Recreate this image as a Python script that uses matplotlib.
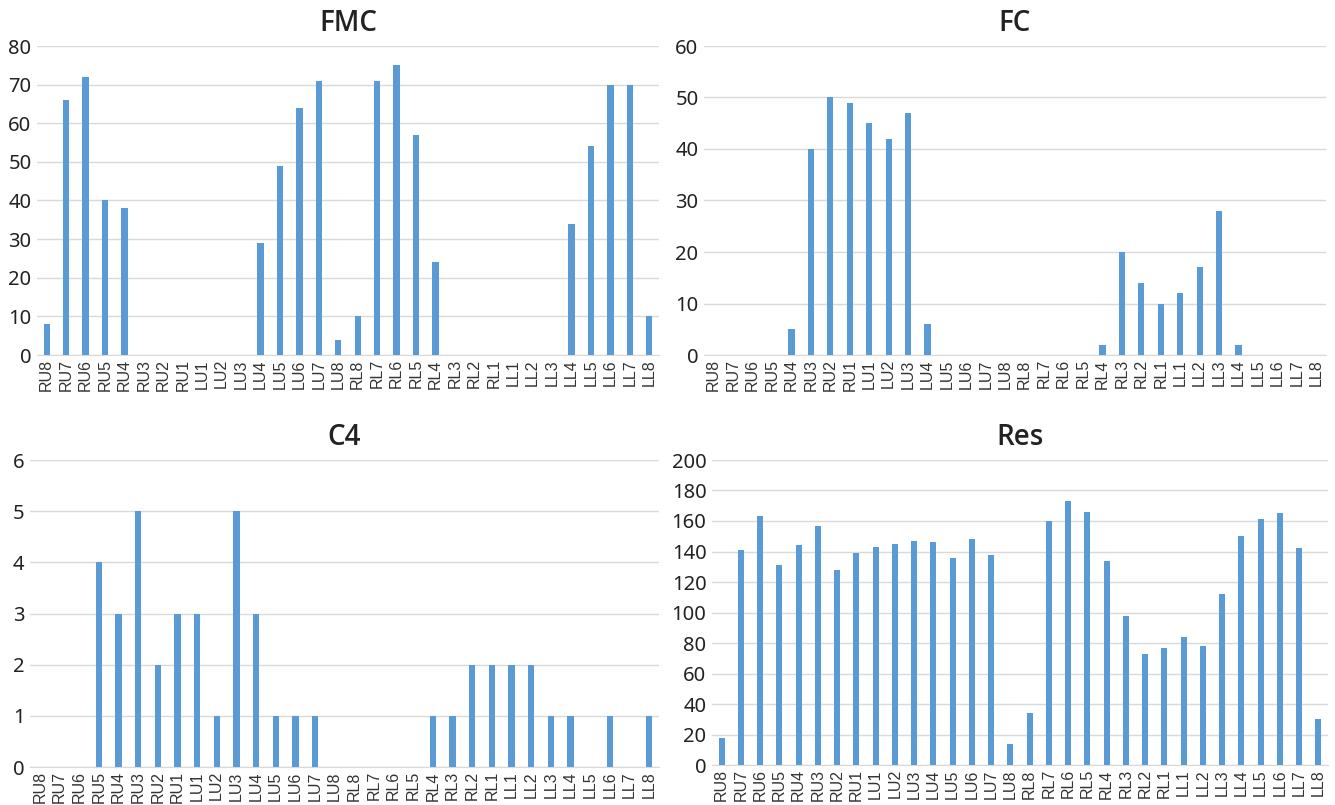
import matplotlib
matplotlib.use('Agg')
import matplotlib.pyplot as plt
import numpy as np

plt.rcParams['font.family'] = ['Noto Sans', 'DejaVu Sans']

teeth = ['RU8', 'RU7', 'RU6', 'RU5', 'RU4', 'RU3', 'RU2', 'RU1',
         'LU1', 'LU2', 'LU3', 'LU4', 'LU5', 'LU6', 'LU7', 'LU8',
         'RL8', 'RL7', 'RL6', 'RL5', 'RL4', 'RL3', 'RL2', 'RL1',
         'LL1', 'LL2', 'LL3', 'LL4', 'LL5', 'LL6', 'LL7', 'LL8']

fmc = [8, 66, 72, 40, 38, 0, 0, 0, 0, 0, 0, 29, 49, 64, 71, 4,
       10, 71, 75, 57, 24, 0, 0, 0, 0, 0, 0, 34, 54, 70, 70, 10]
fc = [0, 0, 0, 0, 5, 40, 50, 49, 45, 42, 47, 6, 0, 0, 0, 0,
      0, 0, 0, 0, 2, 20, 14, 10, 12, 17, 28, 2, 0, 0, 0, 0]
c4 = [0, 0, 0, 4, 3, 5, 2, 3, 3, 1, 5, 3, 1, 1, 1, 0,
      0, 0, 0, 0, 1, 1, 2, 2, 2, 2, 1, 1, 0, 1, 0, 1]
res = [18, 141, 163, 131, 144, 157, 128, 139, 143, 145, 147, 146, 136, 148, 138, 14,
       34, 160, 173, 166, 134, 98, 73, 77, 84, 78, 112, 150, 161, 165, 142, 30]

W, H = 1335, 805
fig = plt.figure(figsize=(W / 100, H / 100), dpi=100)

# (title, values, ymax, step, left px, right px, top px, bottom px)
panels = [
    ('FMC', fmc, 80, 10, 37, 659, 46, 355),
    ('FC', fc, 60, 10, 704, 1326, 46, 355),
    ('C4', c4, 6, 1, 30, 659, 460, 767),
    ('Res', res, 200, 20, 712, 1328, 460, 765),
]

bar_color = '#5B9BD5'
grid_color = '#D9D9D9'

for title, vals, ymax, step, l, r, t, b in panels:
    ax = fig.add_axes([l / W, (H - b) / H, (r - l) / W, (b - t) / H])
    x = np.arange(len(teeth))
    ax.bar(x, vals, width=0.32, color=bar_color, zorder=3)
    ax.set_xlim(-0.5, len(teeth) - 0.5)
    ax.set_ylim(0, ymax)
    ax.set_yticks(np.arange(0, ymax + step / 2, step))
    ax.set_xticks(x)
    ax.set_xticklabels(teeth, rotation=90, fontsize=11.5,
                       family=['Liberation Sans', 'DejaVu Sans'], color='#333333')
    ax.tick_params(axis='y', labelsize=14.5, length=0, pad=4, labelcolor='#222222')
    ax.tick_params(axis='x', length=0, pad=3)
    ax.grid(axis='y', color=grid_color, linewidth=1, zorder=0)
    for s in ['top', 'right', 'left']:
        ax.spines[s].set_visible(False)
    ax.spines['bottom'].set_color(grid_color)
    ax.set_title(title, fontsize=20, fontweight='semibold', color='#222222', pad=11,
                 family=['Open Sans', 'DejaVu Sans'])

fig.savefig('out.png', dpi=100)
